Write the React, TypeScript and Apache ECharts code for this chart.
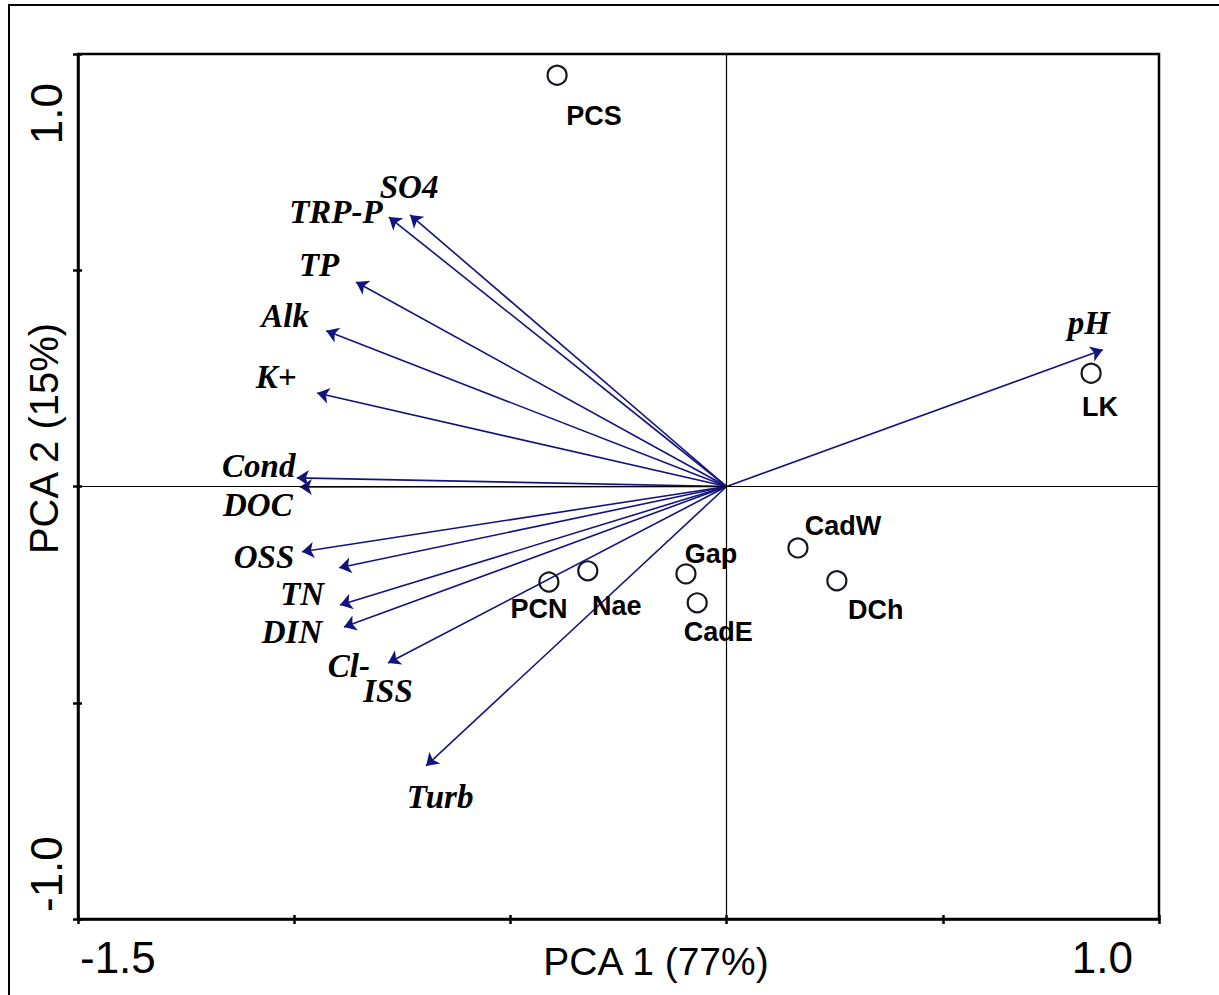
import React, { useEffect, useRef } from 'react';
import * as echarts from 'echarts';

// ---- data ----
const siteNames = ['PCS', 'LK', 'CadW', 'DCh', 'Gap', 'CadE', 'Nae', 'PCN'];
const siteX = [-0.392, 0.843, 0.165, 0.255, -0.094, -0.068, -0.321, -0.411];
const siteY = [0.951, 0.262, -0.142, -0.218, -0.202, -0.269, -0.195, -0.221];

const varNames = ['SO4', 'TRP-P', 'TP', 'Alk', 'K+', 'Cond', 'DOC', 'OSS', 'TN', 'DIN', 'Cl-', 'ISS', 'Turb', 'pH'];
const varX = [-0.732, -0.781, -0.857, -0.926, -0.947, -0.994, -0.987, -0.982, -0.896, -0.894, -0.885, -0.783, -0.695, 0.870];
const varY = [0.628, 0.623, 0.473, 0.360, 0.216, 0.020, -0.001, -0.151, -0.188, -0.274, -0.325, -0.408, -0.646, 0.316];

const xTickValues = [-1.5, 1.0];
const xTickLabels = ['-1.5', '1.0'];
const yTickValues = [-1.0, 1.0];
const yTickLabels = ['-1.0', '1.0'];
const xAxisTitle = 'PCA 1 (77%)';
const yAxisTitle = 'PCA 2 (15%)';

// ---- layout (pixel offsets of labels) ----
const siteLabelOffset = [[37, 41], [9, 34], [45, -22], [39, 29], [25, -20], [21, 29], [29, 35], [-10, 27]];
const varLabelOffset = [[-1, -28], [-53, -5], [-37, -17], [-41, -15], [-41, -16], [-38, -12], [-42, 18], [-38, 5], [-37, 26], [-48, 27], [5, 39], [0, 28], [14, 31], [-14, -27]];

const ARROW = '#13137f';
const SANS = '"Liberation Sans", Arial, sans-serif';
const SERIF = '"Liberation Serif", "Times New Roman", serif';

function pick(values: number[], labels: string[]) {
  return (v: number) => {
    const i = values.findIndex((t) => Math.abs(t - v) < 1e-9);
    return i >= 0 ? labels[i] : '';
  };
}

export default function App() {
  const ref = useRef<HTMLDivElement>(null);
  useEffect(() => {
    if (!ref.current) return;
    const chart = echarts.init(ref.current, undefined, { renderer: 'svg' });
    const axisCommon = {
      interval: 0.5,
      splitLine: { show: false },
    };
    const option: any = {
      animation: false,
      backgroundColor: '#fff',
      grid: {
        left: 78, top: 54, width: 1081, height: 865, containLabel: false, outerBoundsMode: 'none',
        show: true, borderColor: '#000', borderWidth: 2.5, backgroundColor: 'transparent',
      },
      graphic: [
        {
          type: 'rect', shape: { x: 9, y: 5, width: 1400, height: 1200 },
          style: { fill: 'none', stroke: '#000', lineWidth: 2 }, silent: true,
        },
      ],
      xAxis: [
        {
          ...axisCommon, type: 'value', min: -1.5, max: 1.0, position: 'bottom',
          axisLine: { show: true, onZero: false, lineStyle: { color: '#000', width: 2.5 } },
          axisTick: { show: true, inside: false, length: 5, lineStyle: { color: '#000', width: 2.5 } },
          axisLabel: {
            show: true, formatter: pick(xTickValues, xTickLabels), fontSize: 44, color: '#000',
            fontFamily: SANS, margin: 16, showMinLabel: true, showMaxLabel: true,
            alignMinLabel: 'left', alignMaxLabel: 'right', padding: [0, 26, 0, 2],
          },
          name: xAxisTitle, nameLocation: 'middle', nameGap: 23, nameMoveOverlap: false,
          nameTextStyle: { fontSize: 39, color: '#000', fontFamily: SANS, padding: [0, 0, 0, 75] },
        },
        {
          ...axisCommon, type: 'value', min: -1.5, max: 1.0, position: 'bottom',
          axisLine: { show: false, onZero: false },
          axisTick: { show: true, inside: true, length: 4, lineStyle: { color: '#000', width: 2.5 } },
          axisLabel: { show: false },
        },
      ],
      yAxis: [
        {
          ...axisCommon, type: 'value', min: -1.0, max: 1.0, position: 'left',
          axisLine: { show: true, onZero: false, lineStyle: { color: '#000', width: 2.5 } },
          axisTick: { show: true, inside: false, length: 5, lineStyle: { color: '#000', width: 2.5 } },
          axisLabel: {
            show: true, formatter: pick(yTickValues, yTickLabels), fontSize: 44, color: '#000',
            fontFamily: SANS, rotate: 90, margin: 10, showMinLabel: true, showMaxLabel: true,
            alignMinLabel: 'left', alignMaxLabel: 'right', padding: [0, 29, 0, 7],
          },
          name: yAxisTitle, nameLocation: 'middle', nameGap: 14, nameRotate: 90, nameMoveOverlap: false,
          nameTextStyle: { fontSize: 40, color: '#000', fontFamily: SANS, padding: [0, 0, 0, 96] },
        },
        {
          ...axisCommon, type: 'value', min: -1.0, max: 1.0, position: 'left',
          axisLine: { show: false, onZero: false },
          axisTick: { show: true, inside: true, length: 4, lineStyle: { color: '#000', width: 2.5 } },
          axisLabel: { show: false },
        },
      ],
      series: [
        {
          type: 'scatter', xAxisIndex: 0, yAxisIndex: 0, data: [], silent: true, z: 1,
          markLine: {
            silent: true, symbol: ['none', 'none'], label: { show: false },
            lineStyle: { color: '#000', width: 1.2, type: 'solid', opacity: 1 },
            data: [{ xAxis: 0 }, { yAxis: 0 }],
          },
        },
        {
          type: 'lines', coordinateSystem: 'cartesian2d', xAxisIndex: 0, yAxisIndex: 0, z: 2,
          symbol: ['none', 'arrow'], symbolSize: [1, 12], silent: true,
          lineStyle: { color: ARROW, width: 1.6, opacity: 1 },
          data: varNames.map((n, i) => ({ name: n, coords: [[0, 0], [varX[i], varY[i]]] })),
        },
        {
          type: 'scatter', xAxisIndex: 0, yAxisIndex: 0, z: 3, symbolSize: 0, silent: true,
          itemStyle: { color: 'transparent', opacity: 1 },
          label: {
            show: true, position: 'inside', formatter: '{b}', color: '#000',
            textBorderWidth: 0, textBorderColor: 'transparent',
            fontFamily: SERIF, fontStyle: 'italic', fontWeight: 'bold', fontSize: 33,
          },
          data: varNames.map((n, i) => ({
            name: n, value: [varX[i], varY[i]],
            label: { offset: varLabelOffset[i] },
          })),
        },
        {
          type: 'scatter', xAxisIndex: 0, yAxisIndex: 0, z: 4, symbol: 'circle', symbolSize: 19,
          silent: true,
          itemStyle: { color: 'rgba(255,255,255,0)', borderColor: '#151520', borderWidth: 2.2, opacity: 1 },
          label: {
            show: true, position: 'inside', formatter: '{b}', color: '#000',
            textBorderWidth: 0, textBorderColor: 'transparent',
            fontFamily: SANS, fontWeight: 'bold', fontSize: 27,
          },
          data: siteNames.map((n, i) => ({
            name: n, value: [siteX[i], siteY[i]],
            label: { offset: siteLabelOffset[i] },
          })),
        },
      ],
    };
    chart.setOption(option);
    return () => chart.dispose();
  }, []);
  return (
    <div
      ref={ref}
      style={{ position: 'absolute', left: 0, top: 0, width: 1219, height: 995 }}
    />
  );
}
